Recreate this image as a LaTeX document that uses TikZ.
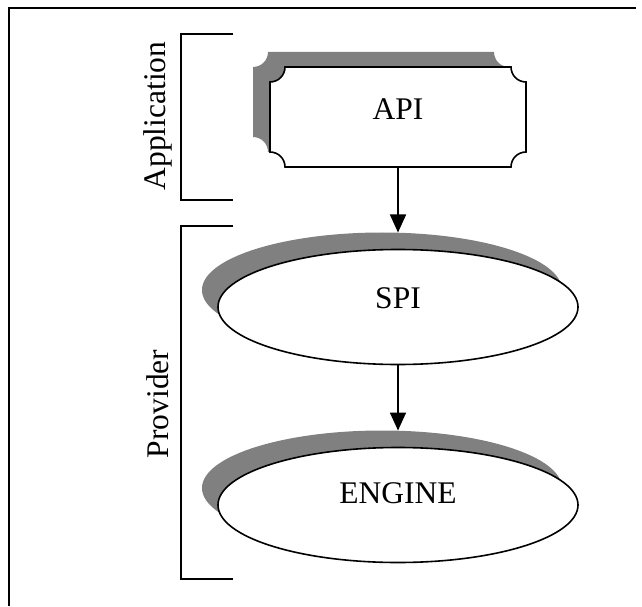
\documentclass[tikz,border=0pt]{standalone}
\usepackage{fontspec}
\setmainfont{Liberation Serif}
\usetikzlibrary{arrows.meta,shadows,calc,shapes.geometric}
\newcommand\apishape{(-113,50) -- (113,50) arc[start angle=180,end angle=270,radius=15pt] -- (128,-35) arc[start angle=90,end angle=180,radius=15pt] -- (-113,-50) arc[start angle=0,end angle=90,radius=15pt] -- (-128,35) arc[start angle=270,end angle=360,radius=15pt] -- cycle}
\tikzset{
  ln/.style={line width=1.6pt},
  lbl/.style={font=\fontsize{31.5}{36}\selectfont, inner sep=0pt},
  oval/.style={ellipse, draw, ln, fill=white, minimum width=360pt, minimum height=115pt, inner sep=0pt, outer sep=0pt,
    drop shadow={shadow xshift=-16pt, shadow yshift=17pt, fill=black!50, opacity=1}},
  conn/.style={ln, -{Triangle[width=16pt,length=18pt]}},
}
\begin{document}
\begin{tikzpicture}[x=1pt,y=1pt]
\useasboundingbox (0,0) rectangle (642,606);
% frame
\draw[line width=1.8pt] (636,598) -- (9,598) -- (9,0);
% brackets
\draw[ln] (233,572) -- (181,572) -- (181,406) -- (233,406);
\draw[ln] (233,380) -- (181,380) -- (181,27) -- (233,27);
\node[lbl, rotate=90] (app) at (158,490) {Application};
\node[lbl, rotate=90] (prov) at (158,202) {Provider};
% API
\node[minimum width=256pt, minimum height=100pt, inner sep=0pt, outer sep=0pt] (api) at (398,489) {};
\fill[black!50, shift={([xshift=-17pt,yshift=15pt]api.center)}] \apishape;
\draw[ln, fill=white, shift={(api.center)}] \apishape;
\node[lbl] (apit) at (398,497) {API};
% SPI and ENGINE
\node[oval] (spi) at (398,299) {};
\node[lbl] (spit) at (398,308) {SPI};
\node[oval] (eng) at (398,101) {};
\node[lbl] (engt) at (398,113) {ENGINE};
\coordinate (spitop) at ([yshift=17pt]spi.north);
\coordinate (engtop) at ([yshift=17pt]eng.north);
\draw[conn] (api.south) -- (api.south |- spitop);
\draw[conn] (spi.south) -- (spi.south |- engtop);
\end{tikzpicture}
\end{document}
